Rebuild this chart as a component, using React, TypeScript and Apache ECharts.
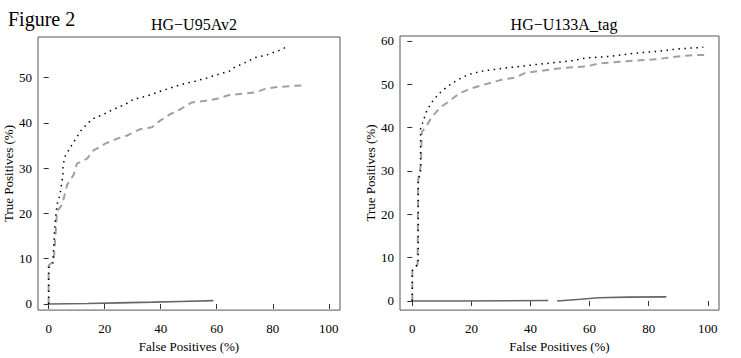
import React, { useEffect, useRef } from "react";
import * as echarts from "echarts";

// Tick values
const xTicks = [0, 20, 40, 60, 80, 100];
const yTicksLeft = [0, 10, 20, 30, 40, 50];
const yTicksRight = [0, 10, 20, 30, 40, 50, 60];

// HG-U95Av2 (left panel): [False Positives %, True Positives %]
const leftDotted: (number | string)[][] = [
  [0, 0], [0, 8], [1.5, 9], [2, 15], [2.4, 18.6], [3, 22], [4, 24], [5.1, 28.5], [5.1, 30.6],
  [6, 32.8], [8.9, 35.7], [11.9, 38.6], [15.5, 40.8], [19.6, 41.9], [23.2, 43.0], [27.4, 44.1],
  [30.3, 45.2], [35.1, 45.9], [38.7, 46.7], [43.4, 47.7], [47.6, 48.5], [52.3, 49.2], [56.5, 49.9],
  [60.6, 50.7], [65.0, 51.5], [66.2, 52.2], [70.1, 53.3], [73.7, 54.4], [77.9, 55.0], [82.3, 56.0],
  [84.4, 56.6],
];
const leftDashed: (number | string)[][] = [
  [0, 0], [0, 8.5], [1.8, 9.5], [2.4, 14.6], [3.0, 20.5], [4.8, 21.9], [6.6, 26.3], [8.9, 28.5],
  [10.1, 31.0], [13.7, 32.1], [16.0, 33.9], [20.2, 35.4], [24.4, 36.5], [28.0, 37.2], [32.7, 38.6],
  [36.9, 39.0], [39.8, 40.5], [43.4, 41.9], [47.0, 43.0], [51.1, 44.5], [55.3, 44.8], [60.1, 45.3],
  [64.2, 46.1], [69.0, 46.4], [73.7, 46.7], [77.3, 47.5], [81.5, 47.9], [86.0, 48.1], [91.7, 48.3],
];
const leftSolid: (number | string)[][] = [
  [0, 0], [14, 0.1], [25, 0.25], [37, 0.4], [47, 0.55], [58.8, 0.75],
];

// HG-U133A_tag (right panel)
const rightDotted: (number | string)[][] = [
  [0, 0], [0, 7], [2, 8.5], [2, 27.6], [2.8, 30], [2.8, 39.7], [4.9, 43.9], [6.6, 45.8], [8.8, 47.7],
  [12.2, 49.6], [15.6, 51.1], [19, 52.2], [23.5, 53.0], [28, 53.4], [32.5, 53.8], [37, 54.1],
  [41.5, 54.5], [46, 54.8], [54.0, 55.4], [58.5, 56.0], [66.9, 56.4], [73.7, 57.0], [78.2, 57.3],
  [85.0, 57.7], [89.5, 58.1], [94.0, 58.3], [98.5, 58.5],
];
const rightDashed: (number | string)[][] = [
  [0, 0], [0, 7], [1.8, 8.5], [2, 28], [2.9, 31.3], [3.2, 38.9], [4.9, 40.5], [6.6, 42.4],
  [9.4, 44.6], [12.8, 46.2], [15.6, 47.7], [19, 48.8], [22.9, 49.6], [26.9, 50.4], [30.8, 51.1],
  [34.8, 51.5], [38.2, 52.6], [42.7, 53.0], [47.2, 53.4], [50.6, 53.7], [59.0, 54.1], [63.5, 54.8],
  [72.6, 55.3], [81.6, 55.7], [85.5, 56.0], [90.0, 56.4], [95.1, 56.7], [99.1, 56.7],
];
const rightSolid: (number | string)[][] = [
  [0, 0], [15, 0], [15, 0.05], [46, 0.12], [47, "-"], [49, 0.0], [57, 0.4], [63, 0.75], [73, 0.9],
  [86, 0.95],
];

const titles = ["HG\u2212U95Av2", "HG\u2212U133A_tag"];
const figureLabel = "Figure 2";
const xName = "False Positives (%)";
const yName = "True Positives (%)";

const FONT = "'Liberation Serif', 'DejaVu Serif', serif";

export default function App() {
  const ref = useRef<HTMLDivElement>(null);
  useEffect(() => {
    if (!ref.current) return;
    const chart = echarts.init(ref.current, undefined, { renderer: "svg" });

    const mkX = (gi: number, min: number, max: number) => ({
      type: "value",
      gridIndex: gi,
      min,
      max,
      name: xName,
      nameLocation: "middle",
      nameGap: 29,
      nameTextStyle: { fontFamily: FONT, fontSize: 13, color: "#000" },
      axisLine: { show: false },
      splitLine: { show: false },
      axisTick: { show: true, length: 5, inside: false, customValues: xTicks, lineStyle: { color: "#333" } },
      axisLabel: { customValues: xTicks, fontFamily: FONT, fontSize: 13, color: "#000", margin: 12 },
    });
    const mkY = (gi: number, min: number, max: number, ticks: number[], gap: number) => ({
      type: "value",
      gridIndex: gi,
      min,
      max,
      name: yName,
      nameLocation: "middle",
      nameGap: gap,
      nameTextStyle: { fontFamily: FONT, fontSize: 13, color: "#000" },
      axisLine: { show: false },
      splitLine: { show: false },
      axisTick: { show: true, length: 5, inside: false, customValues: ticks, lineStyle: { color: "#333" } },
      axisLabel: { customValues: ticks, fontFamily: FONT, fontSize: 13, color: "#000", margin: 6 },
    });

    const dotted = (gi: number, data: any[]) => ({
      type: "line", xAxisIndex: gi, yAxisIndex: gi, data, showSymbol: false, symbol: "none",
      lineStyle: { color: "#000", width: 1.5, type: [1.5, 4.5] }, z: 3,
    });
    const dashed = (gi: number, data: any[]) => ({
      type: "line", xAxisIndex: gi, yAxisIndex: gi, data, showSymbol: false, symbol: "none",
      lineStyle: { color: "#a0a0a0", width: 2, type: [7, 5] }, z: 2,
    });
    const solid = (gi: number, data: any[]) => ({
      type: "line", xAxisIndex: gi, yAxisIndex: gi, data, showSymbol: false, symbol: "none",
      connectNulls: false,
      lineStyle: { color: "#666", width: 1.6 }, z: 2,
    });

    chart.setOption({
      animation: false,
      backgroundColor: "#fff",
      title: [
        { text: figureLabel, left: 3, top: 4, textStyle: { fontFamily: FONT, fontSize: 20, fontWeight: "normal", color: "#000" } },
        { text: titles[0], left: 189, textAlign: "center", top: 11, textStyle: { fontFamily: FONT, fontSize: 16, fontWeight: "normal", color: "#000" } },
        { text: titles[1], left: 559, textAlign: "center", top: 11, textStyle: { fontFamily: FONT, fontSize: 16, fontWeight: "normal", color: "#000" } },
      ],
      grid: [
        { left: 38, top: 37, width: 302, height: 276, show: true, borderColor: "#555", borderWidth: 1, backgroundColor: "transparent" },
        { left: 400, top: 36, width: 319, height: 277, show: true, borderColor: "#555", borderWidth: 1, backgroundColor: "transparent" },
      ],
      xAxis: [mkX(0, -3.8, 104.0), mkX(1, -4.16, 103.8)],
      yAxis: [mkY(0, -1.35, 58.95, yTicksLeft, 20), mkY(1, -2.1, 61.1, yTicksRight, 15)],
      series: [
        solid(0, leftSolid), dashed(0, leftDashed), dotted(0, leftDotted),
        solid(1, rightSolid), dashed(1, rightDashed), dotted(1, rightDotted),
      ],
    });
    return () => chart.dispose();
  }, []);
  return <div ref={ref} style={{ position: "absolute", left: 0, top: 0, width: 741, height: 358 }} />;
}
